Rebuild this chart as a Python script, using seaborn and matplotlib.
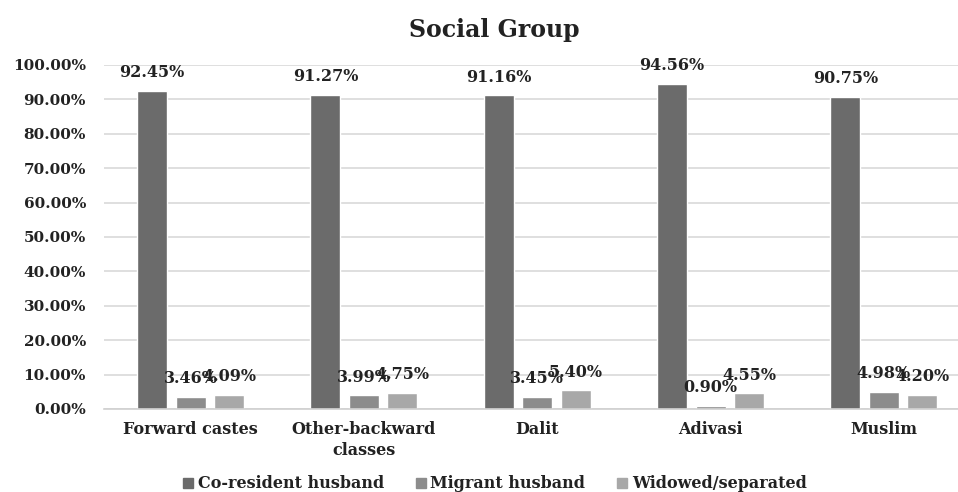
import numpy as np
import pandas as pd
import matplotlib
matplotlib.use("Agg")
import matplotlib.pyplot as plt
import matplotlib.ticker as mticker
import seaborn as sns

groups = ["Forward castes", "Other-backward\nclasses", "Dalit", "Adivasi", "Muslim"]
series = ["Co-resident husband", "Migrant husband", "Widowed/separated"]
co_resident = [92.45, 91.27, 91.16, 94.56, 90.75]
migrant = [3.46, 3.99, 3.45, 0.90, 4.98]
widowed = [4.09, 4.75, 5.40, 4.55, 4.20]
colours = ["#6b6b6b", "#8c8c8c", "#a8a8a8"]

df = pd.DataFrame({
    "group": groups * 3,
    "status": [series[0]] * 5 + [series[1]] * 5 + [series[2]] * 5,
    "value": co_resident + migrant + widowed,
})

sns.set_style("white")
plt.rcParams["font.family"] = ["DejaVu Serif"]
plt.rcParams["font.weight"] = "bold"
txt = "#222222"

fig = plt.figure(figsize=(9.58, 4.92), dpi=100)
ax = fig.add_axes([104 / 958, 1 - 409 / 492, 1 - 104 / 958, (409 - 65) / 492])

sns.barplot(data=df, x="group", y="value", hue="status", palette=colours,
            width=0.666, gap=0.22, ax=ax, legend=False, saturation=1)

for cont in ax.containers:
    ax.bar_label(cont, labels=[f"{v:.2f}%" for v in cont.datavalues],
                 padding=7, fontsize=11.5, fontweight="bold", color=txt)

ax.set_ylim(0, 100)
ax.set_xlim(-0.5, -0.5 + 854 / 173.3)
ax.yaxis.set_major_locator(mticker.MultipleLocator(10))
ax.yaxis.set_major_formatter(mticker.FuncFormatter(lambda v, p: f"{v:.2f}%"))
ax.grid(axis="y", color="#d9d9d9", linewidth=1.2)
ax.set_axisbelow(True)
for s in ["top", "right", "left"]:
    ax.spines[s].set_visible(False)
ax.spines["bottom"].set_color("#d0d0d0")
ax.spines["bottom"].set_linewidth(1.2)
ax.tick_params(axis="x", length=0, labelsize=11.5, colors=txt, pad=9)
ax.tick_params(axis="y", length=0, labelsize=11, colors=txt, pad=13)
for lab in ax.get_xticklabels() + ax.get_yticklabels():
    lab.set_fontweight("bold")
    lab.set_linespacing(1.3)
ax.set_xlabel("")
ax.set_ylabel("")

fig.text(494 / 958, 1 - 30 / 492, "Social Group", ha="center", va="center",
         fontsize=17, fontweight="bold", color=txt)

handles = [plt.Rectangle((0, 0), 1, 1, color=c) for c in colours]
fig.legend(handles, series, loc="center", bbox_to_anchor=(495 / 958, 1 - 484 / 492),
           ncol=3, frameon=False, fontsize=11.5, handlelength=0.6, handleheight=0.6,
           handletextpad=0.3, columnspacing=2.0, labelcolor=txt)

fig.savefig("out.png", dpi=100)
